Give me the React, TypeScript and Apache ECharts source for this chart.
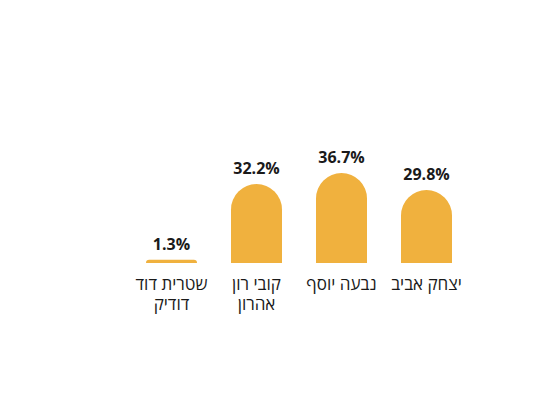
import React, { useEffect, useRef } from "react";
import * as echarts from "echarts";

const categories = ["יצחק אביב", "נבעה יוסף", "קובי רון אהרון", "שטרית דוד דודיק"];
const tickLabels = ["יצחק אביב", "נבעה יוסף", "קובי רון\nאהרון", "שטרית דוד\nדודיק"];
const values = [29.8, 36.7, 32.2, 1.3];

export default function App() {
  const ref = useRef<HTMLDivElement>(null);
  useEffect(() => {
    if (!ref.current) return;
    const chart = echarts.init(ref.current, null, { renderer: "svg" });
    chart.setOption({
      animation: false,
      textStyle: { fontFamily: "'Open Sans', 'Noto Sans', sans-serif" },
      grid: { left: 121, right: 99, top: 157, bottom: 142, containLabel: false },
      xAxis: {
        type: "category",
        inverse: true,
        data: categories,
        axisLine: { show: false },
        axisTick: { show: false },
        axisLabel: {
          interval: 0,
          margin: 10,
          fontSize: 17,
          fontWeight: 500,
          lineHeight: 20,
          color: "#1a1a1a",
          formatter: (_v: string, i: number) => tickLabels[i],
        },
      },
      yAxis: {
        type: "value",
        min: 0,
        max: 40,
        show: false,
        splitLine: { show: false },
      },
      series: [
        {
          type: "bar",
          data: values,
          barWidth: 51,
          itemStyle: { color: "#f0b13e", borderRadius: [26, 26, 0, 0] },
          label: {
            show: true,
            position: "top",
            distance: 8,
            fontSize: 16,
            fontWeight: "bold",
            color: "#1a1a1a",
            formatter: (p: any) => p.value.toFixed(1) + "%",
          },
        },
      ],
    });
    return () => chart.dispose();
  }, []);
  return <div ref={ref} style={{ width: 560, height: 397 }} />;
}
